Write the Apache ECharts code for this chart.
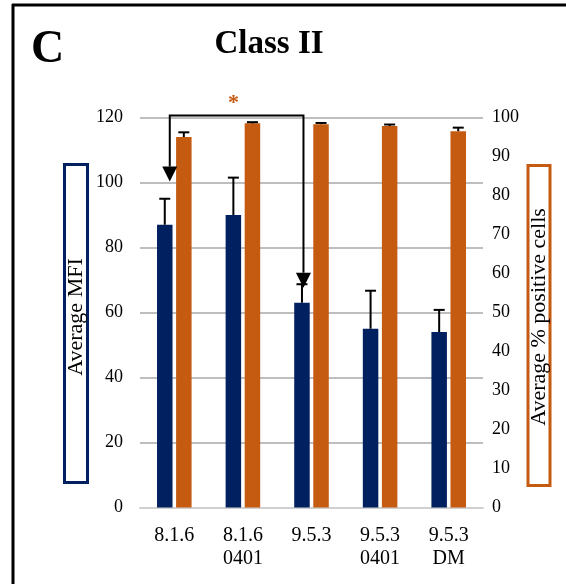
<!DOCTYPE html>
<html>
<head>
<meta charset="utf-8">
<script src="https://cdn.jsdelivr.net/npm/echarts@6/dist/echarts.min.js"></script>
<style>
  html, body { margin: 0; padding: 0; background: #fff; }
  #chart { width: 566px; height: 584px; }
</style>
</head>
<body>
<div id="chart"></div>
<script>
// Cell lines on the x axis
const categories = ['8.1.6', '8.1.6\n0401', '9.5.3', '9.5.3\n0401', '9.5.3\nDM'];

// Average MFI (left axis) and its upper error
const mfiMean = [87, 90, 63, 55, 54];
const mfiErr = [8, 11.5, 5.7, 11.7, 6.8];

// Average % positive cells (right axis) and its upper error
const posMean = [95, 98.5, 98.3, 97.8, 96.5];
const posErr = [1.2, 0.3, 0.3, 0.4, 0.9];

// Axis ranges
const mfiTicks = [0, 20, 40, 60, 80, 100, 120];
const posTicks = [0, 10, 20, 30, 40, 50, 60, 70, 80, 90, 100];

// Significance bracket between two groups (MFI scale)
const bracketFrom = 0;
const bracketTo = 2;
const bracketTop = 120.6;
const bracketTipFrom = 100.3;
const bracketTipTo = 67.6;
const bracketLabel = '*';

const NAVY = '#002060';
const ORANGE = '#C55A11';
const SERIF = '"Liberation Serif", "Times New Roman", serif';
const BAR_W = 15.5;
const BAR_GAP = 0.23;
const HALF_STEP = (BAR_W + BAR_W * BAR_GAP) / 2;
const CAP = 11;

function errorBars(offset) {
  return function (params, api) {
    const i = api.value(0);
    const mean = api.value(1);
    const err = api.value(2);
    const base = api.coord([i, mean]);
    const top = api.coord([i, mean + err]);
    const x = base[0] + offset;
    return {
      type: 'group',
      children: [
        { type: 'line', shape: { x1: x, y1: base[1], x2: x, y2: top[1] },
          style: { stroke: '#000', lineWidth: 2 } },
        { type: 'line', shape: { x1: x - CAP / 2, y1: top[1], x2: x + CAP / 2, y2: top[1] },
          style: { stroke: '#000', lineWidth: 2 } }
      ]
    };
  };
}

const chart = echarts.init(document.getElementById('chart'), null, { renderer: 'canvas' });

chart.setOption({
  animation: false,
  backgroundColor: '#fff',
  grid: { left: 140, width: 343, top: 117.5, height: 390 },
  xAxis: {
    type: 'category',
    data: categories,
    axisLine: { lineStyle: { color: '#D0D0D0', width: 2 } },
    axisTick: { show: false },
    axisLabel: {
      color: '#000', fontFamily: SERIF, fontSize: 20, lineHeight: 23, margin: 17
    }
  },
  yAxis: [
    {
      type: 'value', min: mfiTicks[0], max: mfiTicks[mfiTicks.length - 1],
      interval: mfiTicks[1] - mfiTicks[0],
      axisLine: { show: false }, axisTick: { show: false },
      splitLine: { lineStyle: { color: '#BEBEBE', width: 2 } },
      axisLabel: { color: '#000', fontFamily: SERIF, fontSize: 18, margin: 17 }
    },
    {
      type: 'value', min: posTicks[0], max: posTicks[posTicks.length - 1],
      interval: posTicks[1] - posTicks[0],
      axisLine: { show: false }, axisTick: { show: false },
      splitLine: { show: false },
      axisLabel: { color: '#000', fontFamily: SERIF, fontSize: 18, margin: 9 }
    }
  ],
  series: [
    {
      name: 'Average MFI', type: 'bar', yAxisIndex: 0, data: mfiMean,
      barWidth: BAR_W, barGap: (BAR_GAP * 100) + '%',
      itemStyle: { color: NAVY }
    },
    {
      name: 'Average % positive cells', type: 'bar', yAxisIndex: 1, data: posMean,
      barWidth: BAR_W, barGap: (BAR_GAP * 100) + '%',
      itemStyle: { color: ORANGE }
    },
    {
      type: 'custom', yAxisIndex: 0, z: 5,
      data: mfiMean.map((v, i) => [i, v, mfiErr[i]]),
      encode: { x: 0, y: 1 },
      renderItem: errorBars(-HALF_STEP)
    },
    {
      type: 'custom', yAxisIndex: 1, z: 5,
      data: posMean.map((v, i) => [i, v, posErr[i]]),
      encode: { x: 0, y: 1 },
      renderItem: errorBars(HALF_STEP)
    }
  ]
});

// Bracket with arrows between the compared groups
const pFrom = chart.convertToPixel({ xAxisIndex: 0, yAxisIndex: 0 }, [bracketFrom, bracketTop]);
const pTo = chart.convertToPixel({ xAxisIndex: 0, yAxisIndex: 0 }, [bracketTo, bracketTop]);
const tipFrom = chart.convertToPixel({ xAxisIndex: 0, yAxisIndex: 0 }, [bracketFrom, bracketTipFrom]);
const tipTo = chart.convertToPixel({ xAxisIndex: 0, yAxisIndex: 0 }, [bracketTo, bracketTipTo]);
const xL = pFrom[0] - HALF_STEP + 5;
const xR = pTo[0] - HALF_STEP + 1.5;
const yTop = pFrom[1];
const AH = 15, AW = 15;

chart.setOption({
  graphic: [
    // figure frame (top and left edges)
    { type: 'line', shape: { x1: 12, y1: 5, x2: 566, y2: 5 }, style: { stroke: '#000', lineWidth: 3 } },
    { type: 'line', shape: { x1: 13, y1: 4, x2: 13, y2: 584 }, style: { stroke: '#000', lineWidth: 3 } },
    // panel letter and title
    { type: 'text', left: 31, top: 27,
      style: { text: 'C', font: 'bold 46px ' + SERIF, fill: '#000' } },
    { type: 'text', x: 269, y: 44,
      style: { text: 'Class II', font: 'bold 33px ' + SERIF, fill: '#000',
               textAlign: 'center', textVerticalAlign: 'middle' } },
    // left axis name box
    { type: 'rect', shape: { x: 64.5, y: 164.5, width: 23, height: 318 },
      style: { fill: '#fff', stroke: NAVY, lineWidth: 3 } },
    { type: 'text', x: 76, y: 317, rotation: Math.PI / 2,
      style: { text: 'Average MFI', font: '22px ' + SERIF, fill: '#000',
               textAlign: 'center', textVerticalAlign: 'middle' } },
    // right axis name box
    { type: 'rect', shape: { x: 528, y: 165.5, width: 22, height: 320 },
      style: { fill: '#fff', stroke: ORANGE, lineWidth: 3 } },
    { type: 'text', x: 539, y: 317, rotation: Math.PI / 2,
      style: { text: 'Average % positive cells', font: '22px ' + SERIF, fill: '#000',
               textAlign: 'center', textVerticalAlign: 'middle' } },
    // bracket
    { type: 'polyline', z: 10,
      shape: { points: [[xL, tipFrom[1] - AH], [xL, yTop], [xR, yTop], [xR, tipTo[1] - AH]] },
      style: { stroke: '#000', lineWidth: 2, fill: null } },
    { type: 'polygon', z: 10,
      shape: { points: [[xL - AW / 2, tipFrom[1] - AH], [xL + AW / 2, tipFrom[1] - AH], [xL, tipFrom[1]]] },
      style: { fill: '#000' } },
    { type: 'polygon', z: 10,
      shape: { points: [[xR - AW / 2, tipTo[1] - AH], [xR + AW / 2, tipTo[1] - AH], [xR, tipTo[1]]] },
      style: { fill: '#000' } },
    { type: 'text', z: 10, x: (xL + xR) / 2 - 3, y: yTop - 12,
      style: { text: bracketLabel, font: 'bold 22px ' + SERIF, fill: ORANGE,
               textAlign: 'center', textVerticalAlign: 'middle' } }
  ]
});
</script>
</body>
</html>
